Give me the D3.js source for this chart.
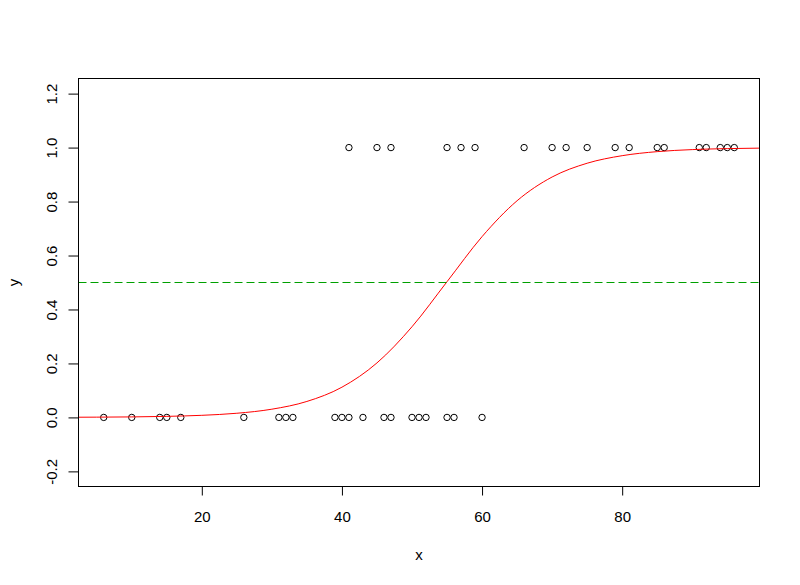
<!DOCTYPE html>
<html>
<head>
<meta charset="utf-8">
<script src="https://cdn.jsdelivr.net/npm/d3@7"></script>
<style>
  body { margin: 0; background: #fff; }
  svg text { font-family: "Liberation Sans", Arial, sans-serif; font-size: 15px; fill: #000; }
</style>
</head>
<body>
<div id="chart"></div>
<script>
const zeroX = [6, 10, 14, 15, 17, 26, 31, 32, 33, 39, 40, 41, 43, 46, 47, 50, 51, 52, 55, 56, 60]
const oneX = [41, 45, 47, 55, 57, 59, 66, 70, 72, 75, 79, 81, 85, 86, 91, 92, 94, 95, 96]

// fitted curve, every 5 units of x
const curveX = [0, 5, 10, 15, 20, 25, 30, 35, 40, 45, 50, 55, 60, 65, 70, 75, 80, 85, 90, 95, 100]
const curveY = [0.0005, 0.001, 0.0019, 0.0039, 0.0078, 0.0154, 0.0305, 0.0592, 0.112, 0.202,
  0.336, 0.503, 0.670, 0.803, 0.891, 0.942, 0.970, 0.985, 0.9925, 0.9962, 0.9981]

const cutoff = 0.5
const xTicks = [20, 40, 60, 80]
const yTicks = [-0.2, 0, 0.2, 0.4, 0.6, 0.8, 1.0, 1.2]

const width = 800
const height = 585
const plot = { left: 78.5, right: 759.5, top: 78.5, bottom: 486.5 }

const svg = d3.select('#chart')
  .append('svg')
  .attr('width', width)
  .attr('height', height)

const x = d3.scaleLinear().domain([2.4, 99.6]).range([plot.left, plot.right])
const y = d3.scaleLinear().domain([-0.256, 1.256]).range([plot.bottom, plot.top])

// R prints a plain hyphen for negatives
const fmtY = d => d3.format('.1f')(d).replace('\u2212', '-')

svg.append('defs').append('clipPath')
  .attr('id', 'clip')
  .append('rect')
  .attr('x', plot.left)
  .attr('y', plot.top)
  .attr('width', plot.right - plot.left)
  .attr('height', plot.bottom - plot.top)

// x axis
const xAxis = svg.append('g')
  .attr('transform', 'translate(0,' + plot.bottom + ')')
  .call(d3.axisBottom(x).tickValues(xTicks).tickSize(9).tickSizeOuter(0).tickFormat(d3.format('d')))
xAxis.select('.domain').remove()
xAxis.selectAll('line').attr('stroke', '#000')
xAxis.selectAll('text').attr('y', 35).attr('dy', 0)

// y axis, labels turned like R does
const yAxis = svg.append('g')
  .attr('transform', 'translate(' + plot.left + ',0)')
  .call(d3.axisLeft(y).tickValues(yTicks).tickSize(10).tickSizeOuter(0).tickFormat(fmtY))
yAxis.select('.domain').remove()
yAxis.selectAll('line').attr('stroke', '#000')
yAxis.selectAll('text')
  .attr('x', null)
  .attr('dy', 0)
  .attr('text-anchor', 'middle')
  .attr('transform', 'translate(-22,0) rotate(-90)')

// axis titles
svg.append('text')
  .attr('x', (plot.left + plot.right) / 2)
  .attr('y', 560)
  .attr('text-anchor', 'middle')
  .text('x')

svg.append('text')
  .attr('text-anchor', 'middle')
  .attr('transform', 'translate(19,' + (plot.top + plot.bottom) / 2 + ') rotate(-90)')
  .text('y')

const inner = svg.append('g').attr('clip-path', 'url(#clip)')

// points
const points = zeroX.map(d => ({ x: d, y: 0 })).concat(oneX.map(d => ({ x: d, y: 1 })))
inner.selectAll('.dot')
  .data(points)
  .enter()
  .append('circle')
  .attr('class', 'dot')
  .attr('cx', d => x(d.x))
  .attr('cy', d => y(d.y))
  .attr('r', 3.2)
  .attr('fill', 'none')
  .attr('stroke', '#000')
  .attr('stroke-width', 1)

// fitted curve
const line = d3.line()
  .x(d => x(d[0]))
  .y(d => y(d[1]))
  .curve(d3.curveMonotoneX)

inner.append('path')
  .datum(d3.zip(curveX, curveY))
  .attr('d', line)
  .attr('fill', 'none')
  .attr('stroke', '#ff0000')
  .attr('stroke-width', 1)

// cut-off line
inner.append('line')
  .attr('x1', plot.left)
  .attr('x2', plot.right)
  .attr('y1', y(cutoff))
  .attr('y2', y(cutoff))
  .attr('stroke', '#00a000')
  .attr('stroke-width', 1.2)
  .attr('stroke-dasharray', '8,4')

// plot box
svg.append('rect')
  .attr('x', plot.left)
  .attr('y', plot.top)
  .attr('width', plot.right - plot.left)
  .attr('height', plot.bottom - plot.top)
  .attr('fill', 'none')
  .attr('stroke', '#000')
  .attr('stroke-width', 1)
</script>
</body>
</html>
